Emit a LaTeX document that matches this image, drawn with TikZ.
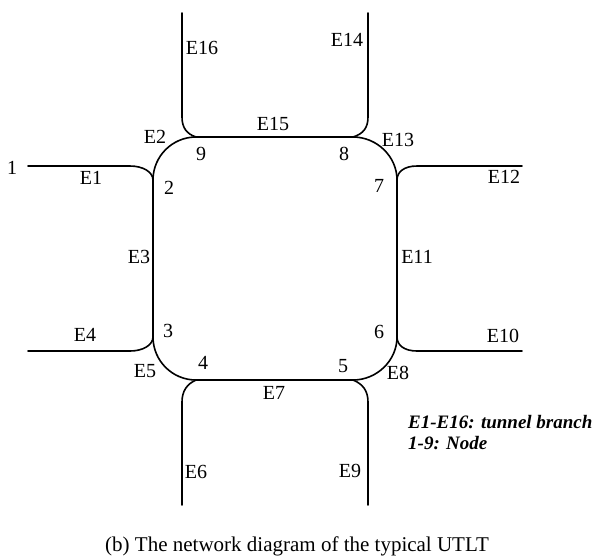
\documentclass[tikz,border=0pt]{standalone}
\usepackage{fontspec}
\setmainfont{Liberation Serif}
\begin{document}
\begin{tikzpicture}[x=1pt,y=-1pt,
  br/.style={line width=1.6pt,line cap=round},
  lab/.style={font=\fontsize{20}{22}\selectfont,inner sep=0pt},
  leg/.style={font=\fontsize{19}{21}\selectfont\bfseries\itshape,inner sep=0pt,anchor=base west},
  captxt/.style={font=\fontsize{21}{23}\selectfont,inner sep=0pt,anchor=base}]
\useasboundingbox (0,0) rectangle (596,558);
% junction nodes
\coordinate (n2) at (153,180);
\coordinate (n9) at (196,137);
\coordinate (n8) at (353,137);
\coordinate (n7) at (397,180);
\coordinate (n6) at (397,337);
\coordinate (n5) at (353,380);
\coordinate (n4) at (196,380);
\coordinate (n3) at (153,337);
% free ends
\coordinate (e1) at (28,166);
\coordinate (e16) at (182,13);
\coordinate (e14) at (368,13);
\coordinate (e12) at (522,166);
\coordinate (e10) at (522,351);
\coordinate (e9) at (368,505);
\coordinate (e6) at (182,505);
\coordinate (e4) at (28,351);
% branches
\draw[br] (e1) -- (130,166) .. controls (143,166) and (153,172) .. (n2);
\draw[br] (n2) -- (n3);
\draw[br] (n2) .. controls (153,156.3) and (172.3,137) .. (n9);
\draw[br] (e16) -- (182,117) .. controls (182,128) and (187,134) .. (n9);
\draw[br] (n9) -- (n8);
\draw[br] (e14) -- (368,117) .. controls (368,128) and (363,134) .. (n8);
\draw[br] (n8) .. controls (376.7,137) and (397,156.3) .. (n7);
\draw[br] (e12) -- (417,166) .. controls (404,166) and (397,172) .. (n7);
\draw[br] (n7) -- (n6);
\draw[br] (e10) -- (417,351) .. controls (404,351) and (397,345) .. (n6);
\draw[br] (n6) .. controls (397,360.7) and (376.7,380) .. (n5);
\draw[br] (e9) -- (368,402) .. controls (368,391) and (363,384) .. (n5);
\draw[br] (n5) -- (n4);
\draw[br] (e6) -- (182,402) .. controls (182,391) and (187,384) .. (n4);
\draw[br] (n4) .. controls (172.3,380) and (153,360.7) .. (n3);
\draw[br] (e4) -- (130,351) .. controls (143,351) and (153,345) .. (n3);
% labels
\node[lab] (l1) at (12,168) {1};
\node[lab] (lE1) at (91,178) {E1};
\node[lab] (lE2) at (155,137) {E2};
\node[lab] (l9) at (201,154) {9};
\node[lab] (l2) at (169,188) {2};
\node[lab] (lE16) at (202,48) {E16};
\node[lab] (lE15) at (273,124) {E15};
\node[lab] (lE14) at (347,40) {E14};
\node[lab] (l8) at (344,154) {8};
\node[lab] (lE13) at (398,140) {E13};
\node[lab] (l7) at (379,186) {7};
\node[lab] (lE12) at (504,177) {E12};
\node[lab] (lE3) at (139,257) {E3};
\node[lab] (lE11) at (417,257) {E11};
\node[lab] (lE4) at (85,335) {E4};
\node[lab] (l3) at (168,331) {3};
\node[lab] (lE5) at (145,371) {E5};
\node[lab] (l4) at (203,363) {4};
\node[lab] (lE7) at (274,393) {E7};
\node[lab] (lE6) at (196,472) {E6};
\node[lab] (l6) at (379,332) {6};
\node[lab] (lE10) at (503,336) {E10};
\node[lab] (l5) at (343,366) {5};
\node[lab] (lE8) at (398,373) {E8};
\node[lab] (lE9) at (350,471) {E9};
% legend
\node[leg] (leg1) at (408,428.5) {E1-E16: tunnel branch};
\node[leg] (leg2) at (408,449) {1-9: Node};
% caption
\node[captxt] (caption) at (297,551.5) {(b) The network diagram of the typical UTLT};
\end{tikzpicture}
\end{document}
